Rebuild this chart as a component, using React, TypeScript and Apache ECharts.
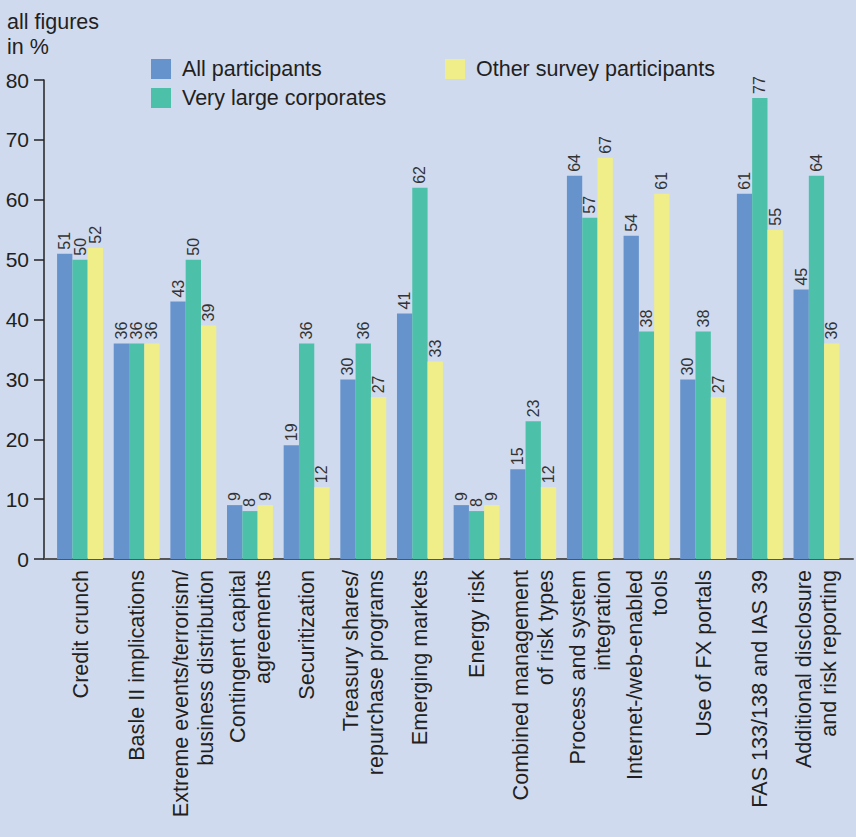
import React, { useEffect, useRef } from "react";
import * as echarts from "echarts";

const categories = [
  "Credit crunch",
  "Basle II implications",
  "Extreme events/terrorism/\nbusiness distribution",
  "Contingent capital\nagreements",
  "Securitization",
  "Treasury shares/\nrepurchase programs",
  "Emerging markets",
  "Energy risk",
  "Combined management\nof risk types",
  "Process and system\nintegration",
  "Internet-/web-enabled\ntools",
  "Use of FX portals",
  "FAS 133/138 and IAS 39",
  "Additional disclosure\nand risk reporting",
];

const allParticipants = [51, 36, 43, 9, 19, 30, 41, 9, 15, 64, 54, 30, 61, 45];
const veryLargeCorporates = [50, 36, 50, 8, 36, 36, 62, 8, 23, 57, 38, 38, 77, 64];
const otherParticipants = [52, 36, 39, 9, 12, 27, 33, 9, 12, 67, 61, 27, 55, 36];

const seriesNames = ["All participants", "Very large corporates", "Other survey participants"];
const colors = ["#6793cc", "#4cc0a8", "#f0ee89"];

const FONT = "'Liberation Sans', Arial, Helvetica, sans-serif";
const TEXT = "#231f20";

export default function App() {
  const ref = useRef<HTMLDivElement>(null);

  useEffect(() => {
    if (!ref.current) return;
    const chart = echarts.init(ref.current, undefined, { renderer: "svg" });
    const top = 80;
    const bottom = 278;
    const label = {
      show: true,
      position: "top",
      rotate: 90,
      align: "left",
      verticalAlign: "middle",
      distance: 4,
      fontSize: 16,
      fontFamily: FONT,
      color: "#333",
    };
    const data = [allParticipants, veryLargeCorporates, otherParticipants];
    chart.setOption({
      animation: false,
      backgroundColor: "#cfdaee",
      textStyle: { fontFamily: FONT },
      graphic: [
        {
          type: "text",
          left: 7,
          top: 9,
          style: {
            text: "all figures\nin %",
            fontSize: 21.5,
            lineHeight: 25,
            fontFamily: FONT,
            fill: TEXT,
          },
        },
      ],
      legend: [
        {
          data: [seriesNames[0], seriesNames[1]],
          orient: "vertical",
          left: 151,
          top: 58,
          itemWidth: 20,
          itemHeight: 20,
          itemGap: 7,
          icon: "rect",
          padding: 0,
          textStyle: { fontSize: 21.5, lineHeight: 20, color: TEXT, fontFamily: FONT, padding: [0, 0, 0, 6] },
        },
        {
          data: [seriesNames[2]],
          orient: "vertical",
          left: 445,
          top: 58,
          itemWidth: 20,
          itemHeight: 20,
          icon: "rect",
          padding: 0,
          textStyle: { fontSize: 21.5, lineHeight: 20, color: TEXT, fontFamily: FONT, padding: [0, 0, 0, 6] },
        },
      ],
      grid: [
        { left: 44, right: 3, top, bottom },
        { left: 51.7, right: 11.2, top, bottom },
      ],
      xAxis: [
        {
          type: "value",
          gridIndex: 0,
          min: 0,
          max: 1,
          axisLine: { show: true, lineStyle: { color: "#555", width: 2 } },
          axisTick: { show: false },
          axisLabel: { show: false },
          splitLine: { show: false },
        },
        {
          type: "category",
          gridIndex: 1,
          data: categories,
          axisLine: { show: false },
          axisTick: { show: false },
          axisLabel: {
            interval: 0,
            rotate: 90,
            margin: 11,
            fontSize: 21.6,
            lineHeight: 25,
            color: TEXT,
            fontFamily: FONT,
          },
        },
      ],
      yAxis: [
        {
          type: "value",
          gridIndex: 0,
          min: 0,
          max: 80,
          interval: 10,
          axisLine: { show: true, lineStyle: { color: "#222", width: 1.5 } },
          axisTick: { show: true, length: 10, lineStyle: { color: "#222", width: 1.5 } },
          axisLabel: { margin: 15, fontSize: 21, color: TEXT, fontFamily: FONT },
          splitLine: { show: false },
        },
        {
          type: "value",
          gridIndex: 1,
          min: 0,
          max: 80,
          interval: 10,
          show: false,
        },
      ],
      series: seriesNames.map((name, i) => ({
        name,
        type: "bar",
        xAxisIndex: 1,
        yAxisIndex: 1,
        data: data[i],
        barWidth: 15.3,
        barGap: "0%",
        itemStyle: { color: colors[i] },
        label,
      })),
    });
    return () => chart.dispose();
  }, []);

  return (
    <div
      ref={ref}
      style={{ position: "fixed", left: 0, top: 0, width: 856, height: 837 }}
    />
  );
}
